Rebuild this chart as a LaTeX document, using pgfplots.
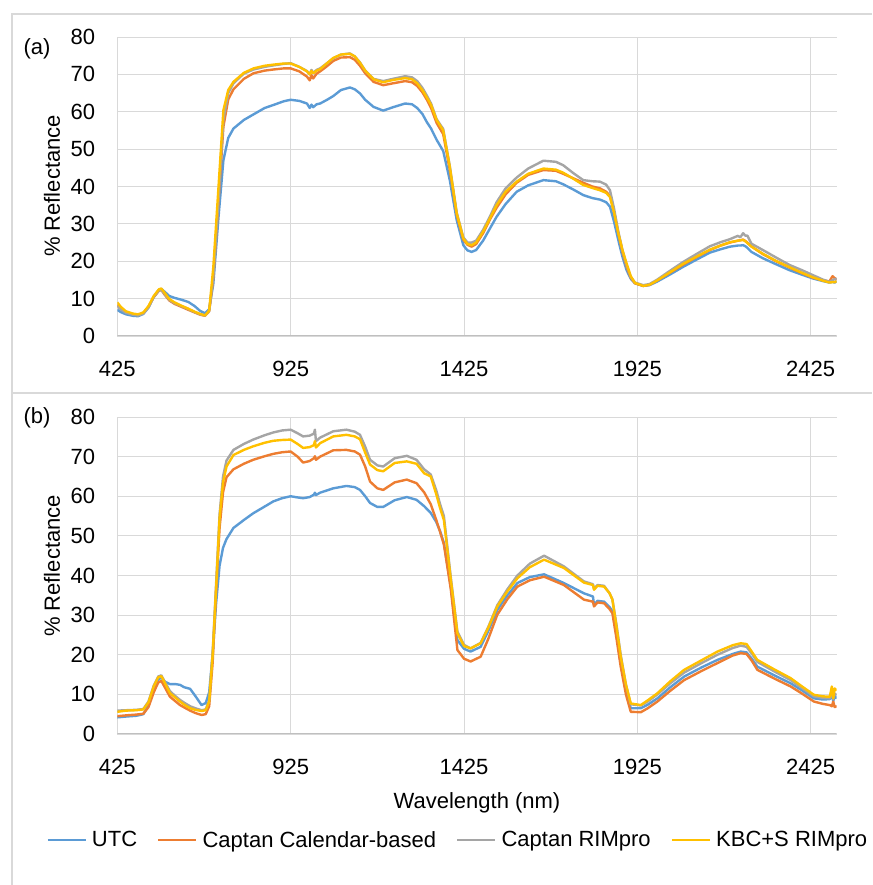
\documentclass[border=0pt]{standalone}
\usepackage{fontspec}
\setmainfont{Liberation Sans}
\usepackage{pgfplots}
\usepackage{pgfplotstable}
\pgfplotsset{compat=1.18}

\definecolor{cutc}{HTML}{5B9BD5}
\definecolor{ccal}{HTML}{ED7D31}
\definecolor{crim}{HTML}{A5A5A5}
\definecolor{ckbc}{HTML}{FFC000}
\definecolor{gridgray}{HTML}{D9D9D9}
\definecolor{axisgray}{HTML}{BFBFBF}
\definecolor{framegray}{HTML}{D9D9D9}

% panel (a): wavelength, UTC, Captan calendar, Captan RIMpro, KBC+S RIMpro
\pgfplotstableread{
wl utc cal rim kbc
425 7.0 8.3 8.0 9.0
435 6.4 7.3 7.1 7.8
450 5.8 6.4 6.2 6.6
470 5.4 5.8 5.7 6.0
485 5.3 5.6 5.5 5.8
500 5.9 6.1 6.0 6.3
515 7.6 7.8 7.7 8.0
530 10.4 10.4 10.5 10.7
545 12.3 12.1 12.2 12.5
552 12.6 12.3 12.4 12.7
562 11.8 11.0 11.2 11.5
575 10.7 9.5 9.7 9.9
590 10.2 8.6 8.8 9.0
610 9.7 7.8 8.0 8.1
630 9.1 7.0 7.2 7.3
648 8.0 6.3 6.4 6.5
664 6.7 5.7 5.8 5.9
678 6.1 5.4 5.5 5.5
690 7.2 6.6 6.7 6.8
702 14.0 15.5 16.0 18.5
717 31.9 36.0 37.0 40.0
731 47.0 56.0 58.0 60.4
745 53.0 63.3 65.0 65.8
760 55.5 66.0 67.6 68.0
790 57.8 68.8 70.2 70.4
818 59.3 70.3 71.3 71.6
850 61.0 71.0 72.0 72.3
875 61.8 71.3 72.4 72.6
905 62.8 71.6 72.8 72.9
925 63.2 71.6 73.0 72.9
950 62.9 70.8 72.0 72.0
972 62.2 69.4 70.9 70.8
980 61.0 68.4 70.0 70.0
985 61.9 69.8 71.2 70.9
990 61.2 68.9 70.4 70.3
1000 62.0 70.2 71.2 71.0
1010 62.2 70.8 71.6 71.4
1030 63.2 72.2 73.0 73.0
1048 64.2 73.6 74.3 74.4
1070 65.8 74.5 75.3 75.3
1096 66.5 74.6 75.6 75.5
1110 66.0 73.9 74.8 74.8
1125 64.9 72.3 73.2 73.1
1140 63.2 70.3 71.0 71.0
1164 61.3 68.0 68.8 68.7
1192 60.3 67.1 68.2 67.9
1220 61.2 67.6 68.8 68.5
1255 62.2 68.2 69.5 69.0
1275 62.0 67.9 69.2 68.7
1290 61.0 66.9 68.2 67.6
1305 59.4 65.2 66.4 65.8
1318 57.2 63.2 64.3 63.8
1330 55.5 61.0 62.2 61.8
1346 52.5 57.0 58.0 57.8
1365 49.5 54.0 55.4 55.0
1384 41.7 44.5 45.5 45.3
1404 31.0 32.4 33.0 32.8
1423 24.3 25.8 26.4 26.1
1435 22.9 24.4 25.0 24.6
1447 22.5 23.9 25.0 24.3
1460 23.0 24.6 25.5 25.0
1480 25.5 27.5 28.4 27.9
1500 28.8 31.2 32.0 31.5
1519 31.9 34.3 35.8 35.0
1545 35.3 37.9 39.5 38.6
1577 38.6 41.0 42.4 41.3
1610 40.3 43.1 44.8 43.4
1654 41.7 44.4 46.9 44.8
1690 41.4 44.2 46.6 44.5
1711 40.6 43.4 45.7 43.7
1740 39.2 42.2 43.6 42.1
1769 37.7 41.0 41.7 40.4
1795 36.9 40.0 41.4 39.6
1817 36.5 39.5 41.3 39.0
1835 35.8 38.6 40.5 38.3
1846 34.6 37.5 39.0 37.2
1858 30.5 33.0 34.0 33.0
1870 25.7 27.5 28.0 27.5
1882 21.2 22.5 23.0 23.0
1894 17.6 18.5 19.0 19.4
1906 15.3 15.6 15.8 16.0
1918 14.1 14.1 14.3 14.2
1942 13.4 13.4 13.6 13.4
1960 13.6 13.7 13.9 13.7
1981 14.5 14.8 15.0 14.8
2020 16.5 17.0 17.5 17.1
2057 18.5 19.1 19.8 19.3
2095 20.4 21.1 21.9 21.2
2134 22.3 23.0 24.0 23.1
2165 23.2 24.2 25.1 24.2
2192 23.9 25.0 25.9 25.1
2215 24.2 25.5 26.8 25.5
2222 24.2 25.6 26.4 25.6
2230 24.3 25.8 27.5 25.7
2237 24.0 25.4 26.8 25.3
2242 23.6 25.0 26.9 24.9
2254 22.5 24.0 24.7 23.9
2287 20.8 21.9 23.0 22.0
2325 19.2 20.0 21.0 20.1
2364 17.6 18.3 19.0 18.4
2400 16.4 16.8 17.6 16.9
2431 15.4 15.6 16.3 15.7
2460 14.7 14.9 15.1 14.8
2479 14.3 14.6 14.5 14.3
2488 14.5 16.0 14.9 14.4
2494 14.3 15.5 15.2 14.4
2500 14.6 15.0 15.3 14.6
}\dataA

% panel (b)
\pgfplotstableread{
wl utc cal rim kbc
425 4.2 4.5 5.9 5.6
450 4.4 4.7 6.0 5.9
480 4.6 4.9 6.1 6.0
500 5.0 5.1 6.3 6.2
515 7.2 6.8 8.2 8.0
530 11.0 10.5 12.2 12.0
543 13.8 13.0 14.5 14.3
552 14.2 13.4 14.8 14.6
562 13.2 11.8 13.2 12.9
577 12.6 9.4 10.8 10.3
592 12.6 8.3 9.6 9.2
606 12.4 7.3 8.6 8.2
618 11.8 6.7 7.9 7.4
635 11.4 5.9 7.0 6.5
650 9.6 5.3 6.5 6.1
668 7.3 4.8 6.0 5.8
680 7.8 5.0 6.2 6.0
690 10.5 7.0 8.5 8.2
700 20.0 18.0 20.5 20.0
710 33.0 36.0 38.0 37.0
720 42.5 52.0 55.5 54.5
730 47.0 61.0 65.0 63.5
740 49.2 64.8 69.0 67.5
760 52.0 66.8 71.7 70.4
790 54.0 68.2 73.2 71.7
817 55.7 69.2 74.3 72.6
850 57.4 70.1 75.4 73.5
875 58.7 70.7 76.1 74.0
900 59.5 71.1 76.6 74.2
925 60.0 71.3 76.8 74.3
945 59.7 70.0 75.9 73.2
961 59.5 68.5 75.1 72.2
980 59.8 68.9 75.3 72.4
992 60.4 69.6 75.8 72.9
995 60.9 70.1 76.8 73.9
998 60.3 69.2 73.9 72.3
1010 60.9 70.0 74.8 73.4
1048 62.0 71.6 76.4 75.1
1086 62.6 71.7 76.8 75.5
1110 62.3 71.3 76.3 75.1
1125 61.6 70.5 75.5 74.4
1140 60.0 67.5 72.5 71.0
1154 58.3 63.7 69.2 68.0
1175 57.3 62.0 67.8 66.6
1192 57.3 61.6 67.5 66.3
1225 59.0 63.5 69.6 68.4
1260 59.8 64.2 70.2 68.8
1288 59.1 63.3 69.2 68.2
1310 57.5 61.0 66.8 65.8
1329 55.8 58.0 65.5 65.0
1345 53.5 54.0 61.5 60.5
1356 51.2 51.0 58.0 57.0
1367 48.2 47.8 55.0 54.0
1387 37.2 36.5 39.5 38.9
1406 23.7 21.2 25.8 25.4
1425 21.5 19.0 22.5 22.2
1444 20.8 18.3 21.6 21.6
1473 22.0 19.5 23.0 22.9
1495 26.0 24.0 27.0 26.8
1521 31.3 30.1 32.5 32.2
1550 35.0 34.0 36.5 36.0
1579 38.1 37.2 40.0 39.3
1615 39.6 38.8 43.0 42.1
1656 40.3 39.7 45.0 44.0
1713 38.1 37.6 42.3 41.9
1771 35.5 33.9 38.5 38.2
1797 34.7 33.4 37.8 37.6
1800 32.5 32.2 36.6 36.4
1810 33.6 33.2 37.6 37.4
1829 33.4 33.0 37.4 37.2
1845 32.0 31.5 35.5 35.5
1853 31.0 30.5 34.0 33.9
1865 25.0 24.0 27.5 27.0
1877 18.0 17.0 20.0 19.5
1892 11.0 10.0 12.5 12.5
1906 6.5 5.6 7.5 7.7
1935 6.5 5.5 7.2 7.3
1955 7.4 6.5 8.2 8.5
1983 9.0 8.2 10.0 10.3
2020 11.8 10.9 12.8 13.3
2060 14.5 13.6 15.5 16.2
2110 16.8 15.9 17.9 18.6
2156 18.7 17.9 20.0 20.8
2200 20.2 19.8 21.7 22.4
2223 20.8 20.4 22.3 22.9
2240 20.6 20.2 22.0 22.7
2255 19.0 18.5 20.3 20.8
2271 17.0 16.2 18.2 18.7
2320 14.8 14.0 15.8 16.3
2367 12.8 12.0 13.6 14.1
2400 11.0 10.2 11.6 12.0
2434 9.0 8.2 9.5 9.9
2460 8.7 7.6 9.1 9.5
2480 8.8 7.3 9.0 9.4
2486 9.8 7.0 10.5 12.0
2490 8.3 8.2 8.8 9.0
2494 9.5 6.8 10.2 11.5
2500 9.0 7.0 9.8 11.0
}\dataB

\newcommand{\bigfont}{\fontsize{22}{26}\selectfont}

\pgfplotsset{
  refl/.style={
    scale only axis,
    width=719.4pt,
    xmin=425, xmax=2500,
    ymin=0, ymax=80,
    xtick={425,925,1425,1925,2425},
    ytick={0,10,...,80},
    grid=major,
    major grid style={draw=gridgray, line width=0.9pt},
    axis line style={draw=none},
    tick style={draw=none},
    /pgf/number format/assume math mode=true,
    /pgf/number format/1000 sep={},
    tick label style={font=\bigfont, inner sep=0pt},
    xticklabel style={anchor=base, yshift=-41pt},
    yticklabel style={anchor=east, xshift=-22pt},
    every axis plot/.append style={line width=2.4pt, line join=round},
    legend image code/.code={\draw[#1] (0pt,0pt) -- (38pt,0pt);},
  }
}

\begin{document}
\begin{tikzpicture}
\useasboundingbox (0,0) rectangle (872pt,885pt);
% chart frame and separator
\draw[framegray, line width=1.2pt] (872pt,871pt) -- (12pt,871pt) -- (12pt,0pt);
\draw[framegray, line width=1.2pt] (12pt,492pt) -- (872pt,492pt);

\begin{axis}[refl, height=299pt, at={(117.3pt,549pt)}, anchor=south west]
\addplot[cutc] table[x=wl, y=utc] {\dataA};
\addplot[ccal] table[x=wl, y=cal] {\dataA};
\addplot[crim] table[x=wl, y=rim] {\dataA};
\addplot[ckbc] table[x=wl, y=kbc] {\dataA};
\draw[axisgray, line width=1pt] (rel axis cs:0,0) -- (rel axis cs:1,0);
\end{axis}

\begin{axis}[refl, height=317pt, at={(117.3pt,151pt)}, anchor=south west,
  legend columns=4,
  legend style={at={(0.472,-0.334)}, anchor=center, draw=none, fill=none,
    font=\bigfont, nodes={inner sep=0pt},
    /tikz/every odd column/.append style={column sep=5pt},
    /tikz/every even column/.append style={column sep=20pt}},
  legend cell align=left]
\addplot[cutc] table[x=wl, y=utc] {\dataB};
\addlegendentry{UTC}
\addplot[ccal] table[x=wl, y=cal] {\dataB};
\addlegendentry{Captan Calendar-based}
\addplot[crim] table[x=wl, y=rim] {\dataB};
\addlegendentry{Captan RIMpro}
\addplot[ckbc] table[x=wl, y=kbc] {\dataB};
\addlegendentry{KBC+S RIMpro}
\draw[axisgray, line width=1pt] (rel axis cs:0,0) -- (rel axis cs:1,0);
\end{axis}

\node[font=\bigfont, rotate=90] at (52pt,699pt) {\% Reflectance};
\node[font=\bigfont, rotate=90] at (52pt,319pt) {\% Reflectance};
\node[font=\bigfont] at (37pt,836pt) {(a)};
\node[font=\bigfont] at (37pt,467.5pt) {(b)};
\node[font=\bigfont] at (477pt,82pt) {Wavelength (nm)};
\end{tikzpicture}
\end{document}
